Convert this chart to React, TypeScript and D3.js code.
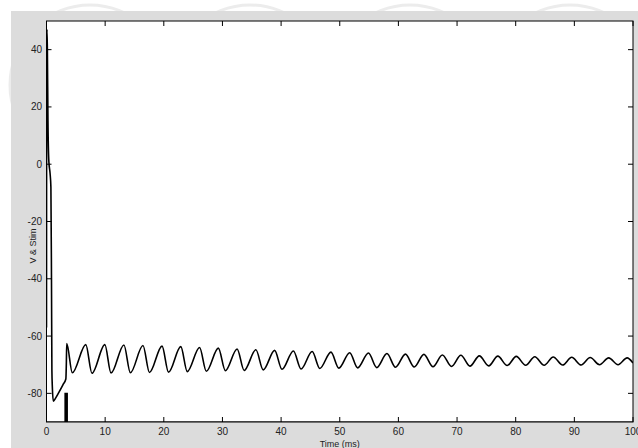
import React from 'react';
import * as d3 from 'd3';

// membrane trace: action potential, recovery, then stim at ~3.4 ms
const spikeT = [0, 0.03, 0.08, 0.15, 0.25, 0.4, 0.6, 0.75, 0.85, 0.92, 1.0, 1.16, 1.6, 2.2, 2.8, 3.3, 3.38];
const spikeV = [-57, 40, 47, 40, 15, 1, -3, -8, -40, -72, -78, -82.7, -81.5, -79.3, -77, -75, -70];

// damped oscillation after the stimulus: peaks and troughs
const peakT = [3.45, 6.7, 9.95, 13.2, 16.45, 19.7, 22.9, 26.1, 29.3, 32.5, 35.7, 38.9, 42.1, 45.3, 48.5, 51.7, 54.9, 58.05, 61.2, 64.35, 67.5, 70.65, 73.8, 76.95, 80.1, 83.25, 86.4, 89.55, 92.7, 95.85, 99.0];
const peakV = [-62.6, -63.0, -63.0, -63.1, -63.3, -63.5, -63.7, -64.0, -64.2, -64.5, -64.8, -65.0, -65.2, -65.4, -65.6, -65.8, -65.9, -66.1, -66.3, -66.4, -66.6, -66.7, -66.9, -67.0, -67.1, -67.2, -67.3, -67.4, -67.5, -67.6, -67.6];
const troughT = [4.4, 7.75, 11.0, 14.3, 17.55, 20.8, 24.0, 27.25, 30.5, 33.7, 36.95, 40.15, 43.4, 46.6, 49.85, 53.05, 56.3, 59.5, 62.7, 65.9, 69.05, 72.2, 75.4, 78.55, 81.7, 84.85, 88.0, 91.15, 94.3, 97.45];
const troughV = [-72.8, -73.0, -72.9, -72.8, -72.7, -72.6, -72.4, -72.3, -72.1, -72.0, -71.8, -71.6, -71.5, -71.3, -71.2, -71.1, -71.0, -70.9, -70.8, -70.7, -70.6, -70.5, -70.4, -70.3, -70.2, -70.2, -70.1, -70.1, -70.0, -70.0];
const endPoint = [100, -69.4];

// stimulus trace (scaled to sit at the bottom of the axes)
const stimT = [0, 3.15, 3.15, 3.55, 3.55, 100];
const stimV = [-90, -90, -80, -80, -90, -90];

const xTicks = [0, 10, 20, 30, 40, 50, 60, 70, 80, 90, 100];
const yTicks = [-80, -60, -40, -20, 0, 20, 40];

const W = 638, H = 448;
const L = 46.5, R = 633, T = 21, B = 422;

export default function App() {
  const x = d3.scaleLinear().domain([0, 100]).range([L, R]);
  const y = d3.scaleLinear().domain([-90, 50]).range([B, T]);

  const pts: [number, number][] = spikeT.map((t, i) => [t, spikeV[i]]);
  const osc: [number, number][] = [];
  peakT.forEach((t, i) => {
    osc.push([t, peakV[i]]);
    if (i < troughT.length) osc.push([troughT[i], troughV[i]]);
  });
  const all = pts.concat(osc, [endPoint as [number, number]]);

  const line = d3.line<[number, number]>()
    .x(d => x(d[0]))
    .y(d => y(d[1]))
    .curve(d3.curveMonotoneX);
  const stimLine = d3.line<number>()
    .x(d => x(stimT[d]))
    .y(d => y(stimV[d]));

  const font = '"Liberation Sans", Arial, sans-serif';

  return (
    <svg width={W} height={H} style={{ position: 'absolute', left: 0, top: 0 }}>
      <rect x={0} y={0} width={W} height={H} fill="#fff" />
      {[90, 250, 410, 570].map(cx => (
        <circle key={cx} cx={cx} cy={85} r={80} fill="none" stroke="#ececec" strokeWidth={3} />
      ))}
      <rect x={11} y={11} width={W - 11} height={H - 11} fill="#dcdcdc" />
      <rect x={L} y={T} width={R - L} height={B - T} fill="#fff" />

      <defs>
        <clipPath id="plot">
          <rect x={L} y={T} width={R - L} height={B - T} />
        </clipPath>
      </defs>
      <g clipPath="url(#plot)">
        <path d={line(all) || ''} fill="none" stroke="#000" strokeWidth={1.6} strokeLinejoin="round" />
        <path d={stimLine(stimT.map((_, i) => i)) || ''} fill="#000" stroke="#000" strokeWidth={1.2} />
      </g>

      <rect x={L} y={T} width={R - L} height={B - T} fill="none" stroke="#000" strokeWidth={1} />
      {xTicks.map(t => (
        <g key={'x' + t}>
          <line x1={x(t)} x2={x(t)} y1={B} y2={B - 5} stroke="#000" />
          <line x1={x(t)} x2={x(t)} y1={T} y2={T + 5} stroke="#000" />
          <text x={x(t)} y={435} textAnchor="middle" fontSize={10} fontFamily={font} fill="#222">{t}</text>
        </g>
      ))}
      {yTicks.map(v => (
        <g key={'y' + v}>
          <line x1={L} x2={L + 5} y1={y(v)} y2={y(v)} stroke="#000" />
          <line x1={R} x2={R - 5} y1={y(v)} y2={y(v)} stroke="#000" />
          <text x={42} y={y(v) + 3.5} textAnchor="end" fontSize={10} fontFamily={font} fill="#222">{v}</text>
        </g>
      ))}
      <text x={(L + R) / 2} y={446.5} textAnchor="middle" fontSize={9} fontFamily={font} fill="#222">Time (ms)</text>
      <text transform={`translate(36,246) rotate(-90)`} textAnchor="middle" fontSize={9} fontFamily={font} fill="#222">V &amp; Stim</text>
    </svg>
  );
}
